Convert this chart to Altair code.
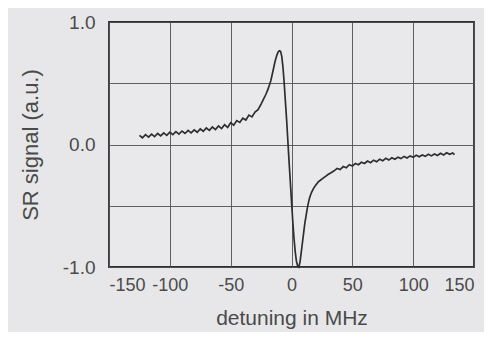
import altair as alt
import pandas as pd

detuning = [
    -125, -122.5, -120, -117.5, -115, -112.5, -110, -107.5, -105, -102.5,
    -100, -97.5, -95, -92.5, -90, -87.5, -85, -82.5, -80, -77.5,
    -75, -72.5, -70, -67.5, -65, -62.5, -60, -57.5, -55, -52.5,
    -50, -47.5, -45, -42.5, -40, -37.5, -35, -32.5, -30, -27.5,
    -25, -23, -21, -19, -17, -15, -13.5, -12, -11, -10,
    -9, -8, -7, -6, -5, -4, -3, -2, -1, 0,
    1, 2, 3, 4, 5, 6, 7, 8, 9, 10,
    11, 12, 13, 14, 15, 16.5, 18, 20, 22, 24,
    26, 28, 30, 32.5, 35, 37.5, 40, 42.5, 45, 47.5,
    50, 52.5, 55, 57.5, 60, 62.5, 65, 67.5, 70, 72.5,
    75, 77.5, 80, 82.5, 85, 87.5, 90, 92.5, 95, 97.5,
    100, 102.5, 105, 107.5, 110, 112.5, 115, 117.5, 120, 122.5,
    125, 127.5, 130, 132.5, 134,
]
signal = [
    0.075, 0.055, 0.08, 0.06, 0.085, 0.065, 0.09, 0.07, 0.095, 0.075,
    0.10, 0.08, 0.105, 0.085, 0.11, 0.09, 0.115, 0.095, 0.12, 0.10,
    0.128, 0.108, 0.135, 0.115, 0.143, 0.122, 0.152, 0.13, 0.162, 0.14,
    0.178, 0.158, 0.195, 0.18, 0.215, 0.20, 0.24, 0.225, 0.265, 0.285,
    0.33, 0.37, 0.41, 0.46, 0.52, 0.61, 0.68, 0.73, 0.755, 0.765,
    0.76, 0.72, 0.63, 0.50, 0.35, 0.20, 0.03, -0.14, -0.30, -0.46,
    -0.62, -0.76, -0.87, -0.95, -0.99, -1.0, -0.96, -0.88, -0.80, -0.72,
    -0.64, -0.58, -0.52, -0.47, -0.43, -0.39, -0.36, -0.33, -0.305, -0.29,
    -0.275, -0.26, -0.245, -0.23, -0.215, -0.195, -0.205, -0.18, -0.19, -0.165,
    -0.175, -0.155, -0.165, -0.145, -0.155, -0.135, -0.148, -0.128, -0.14, -0.12,
    -0.133, -0.113, -0.127, -0.108, -0.12, -0.103, -0.115, -0.097, -0.11, -0.093,
    -0.105, -0.088, -0.10, -0.085, -0.097, -0.08, -0.093, -0.077, -0.09, -0.072,
    -0.085, -0.068, -0.08, -0.07, -0.082,
]

x_ticks = [-150, -100, -50, 0, 50, 100, 150]
y_ticks = [-1.0, -0.5, 0.0, 0.5, 1.0]

df = pd.DataFrame({"detuning": detuning, "signal": signal})

font = "Liberation Sans"
label_color = "#4a4a4a"

chart = alt.Chart(df).mark_line(color="#2e2e2e", strokeWidth=1.7).encode(
    x=alt.X(
        "detuning:Q",
        scale=alt.Scale(domain=[-150, 150], nice=False, zero=False),
        axis=alt.Axis(
            values=x_ticks, title="detuning in MHz",
            labelExpr="'' + datum.value",
            labelPadding=9, titlePadding=13, ticks=False, domain=False,
            gridColor="#505050", gridWidth=0.9, gridOpacity=1,
            labelFontSize=18, titleFontSize=21, labelFont=font, titleFont=font,
            labelColor=label_color, titleColor=label_color, titleFontWeight="normal",
        ),
    ),
    y=alt.Y(
        "signal:Q",
        scale=alt.Scale(domain=[-1, 1], nice=False, zero=False),
        axis=alt.Axis(
            values=y_ticks, title="SR signal (a.u.)",
            labelExpr="abs(datum.value) == 0.5 ? '' : replace(format(datum.value, '.1f'), '\u2212', '-')",
            labelPadding=14, titlePadding=20, ticks=False, domain=False,
            gridColor="#505050", gridWidth=0.9, gridOpacity=1,
            labelFontSize=19, titleFontSize=22, labelFont=font, titleFont=font,
            labelColor=label_color, titleColor=label_color, titleFontWeight="normal",
        ),
    ),
).properties(
    width=365,
    height=245,
    autosize=alt.AutoSizeParams(type="none"),
    padding={"left": 101, "top": 14, "right": 10, "bottom": 65},
    background="#e7e7e9",
).configure_view(
    stroke="#2e2e2e", strokeWidth=1.8, fill="#e9e9eb"
)

chart.save("out.html", embed_options={"renderer": "svg", "actions": False})
